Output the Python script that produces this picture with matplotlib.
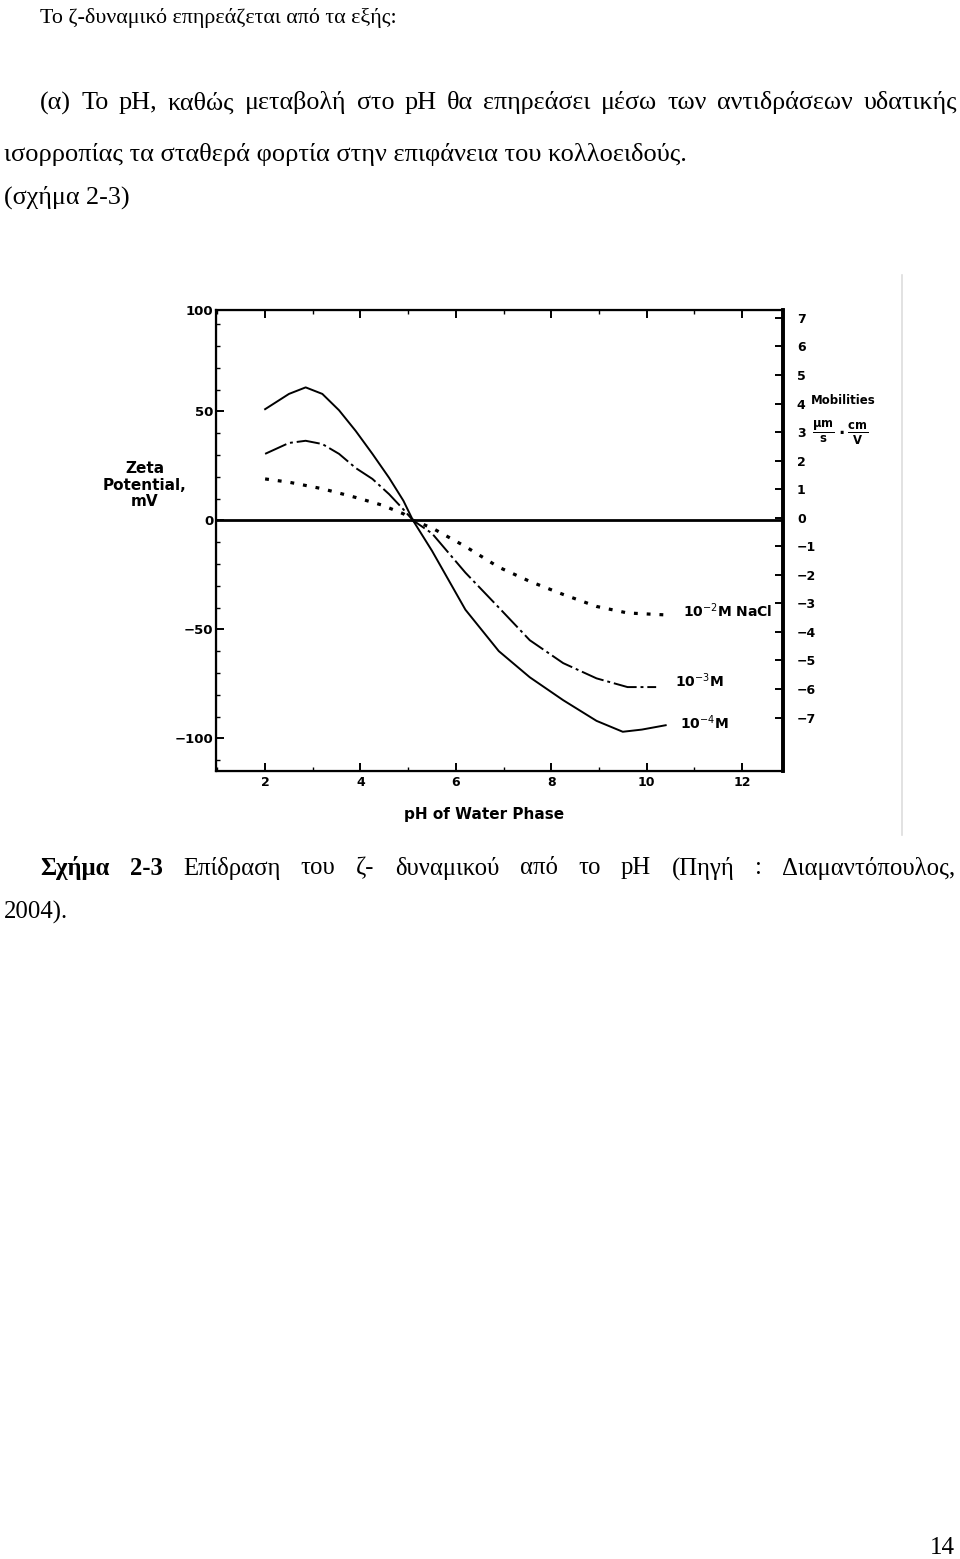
import matplotlib
matplotlib.use("Agg")
import matplotlib.pyplot as plt
from matplotlib.lines import Line2D

# data (pH vs zeta potential, mV)
ph_1e4 = [2.0, 2.5, 2.85, 3.2, 3.55, 3.9, 4.25, 4.6, 4.9, 5.1, 5.5, 6.2, 6.9, 7.55, 8.25, 8.95, 9.5, 9.9, 10.4]
zeta_1e4 = [51, 58, 61, 58, 50.5, 41, 30.5, 19.5, 9, 0, -14, -41, -60, -72, -82.5, -92, -97, -96, -94]

ph_1e3 = [2.0, 2.5, 2.85, 3.2, 3.55, 3.9, 4.25, 4.6, 4.9, 5.1, 5.5, 6.2, 6.9, 7.55, 8.25, 8.95, 9.6, 10.2]
zeta_1e3 = [30.5, 35.5, 36.5, 35, 30.5, 24, 19, 12, 5, 0, -6, -24, -40, -55, -65.5, -72.5, -76.5, -76.5]

ph_1e2 = [2.0, 2.5, 3.2, 3.9, 4.45, 4.9, 5.1, 5.5, 6.2, 6.9, 7.55, 8.25, 8.95, 9.6, 10.5]
zeta_1e2 = [19, 17.5, 14.5, 10.5, 7, 3, 0, -3.5, -12, -21.5, -28, -34, -39.5, -42.5, -43.5]

x_ticks = [2, 4, 6, 8, 10, 12]
y_ticks = [-100, -50, 0, 50]
y_tick_labels = ['\u2212100', '\u221250', '0', '50']
mob_ticks = [7, 6, 5, 4, 3, 2, 1, 0, -1, -2, -3, -4, -5, -6, -7]

labels = ['10$^{-2}$M NaCl', '10$^{-3}$M', '10$^{-4}$M']

W, H = 960, 1559
fig = plt.figure(figsize=(W / 100, H / 100), dpi=100)


def px(x, y):
    return x / W, 1 - y / H


serif = 'Liberation Serif'
chart_font = dict(family='DejaVu Sans', weight='bold')

# ---- page text ----
fig.text(*px(40, 18), 'Το ζ-δυναμικό επηρεάζεται από τα εξής:', family=serif,
         fontsize=15.8, va='center', ha='left')


def justify(words, x0, x1, y, size):
    texts = [fig.text(0, 0, w, family=serif, fontsize=size, weight=wt,
                      va='center', ha='left') for w, wt in words]
    r = fig.canvas.get_renderer()
    widths = [t.get_window_extent(r).width for t in texts]
    gap = (x1 - x0 - sum(widths)) / (len(words) - 1)
    x = x0
    for t, w in zip(texts, widths):
        t.set_position(px(x, y))
        x += w + gap


line_a = '(α) Το pH, καθώς μεταβολή στο pH θα επηρεάσει μέσω των αντιδράσεων υδατικής'
justify([(w, 'normal') for w in line_a.split()], 40, 957, 103, 18.8)
fig.text(*px(4, 155), 'ισορροπίας τα σταθερά φορτία στην επιφάνεια του κολλοειδούς.',
         family=serif, fontsize=19, va='center', ha='left')
fig.text(*px(4, 197), '(σχήμα 2-3)', family=serif, fontsize=18.8, va='center', ha='left')

caption = [('Σχήμα', 'bold'), ('2-3', 'bold')] + \
    [(w, 'normal') for w in 'Επίδραση του ζ- δυναμικού από το pH (Πηγή : Διαμαντόπουλος,'.split()]
justify(caption, 40, 955, 868, 17.8)
fig.text(*px(4, 912), '2004).', family=serif, fontsize=17.8, va='center', ha='left')
fig.text(*px(955, 1548), '14', family=serif, fontsize=18, va='center', ha='right')

# faint scan border line
fig.add_artist(Line2D([902 / W, 902 / W], [1 - 275 / H, 1 - 835 / H],
                      color='#dddddd', lw=1.2))

# ---- chart ----
ax = fig.add_axes([216 / W, 1 - 771 / H, (783 - 216) / W, (771 - 310) / H])
ax.set_xlim(0.97, 12.86)
ax.set_ylim(-115, 96.5)

ax.plot(ph_1e4, zeta_1e4, color='black', lw=1.4, ls='-')
ax.plot(ph_1e3, zeta_1e3, color='black', lw=1.4, ls=(0, (12, 2, 1.5, 2)))
ax.plot(ph_1e2, zeta_1e2, color='black', lw=2.3, ls=(0, (1.2, 2.8)))
ax.axhline(0, color='black', lw=2)

ax.text(10.76, -41.3, labels[0], fontsize=10, va='center', ha='left', **chart_font)
ax.text(10.6, -73.4, labels[1], fontsize=10, va='center', ha='left', **chart_font)
ax.text(10.7, -92.7, labels[2], fontsize=10, va='center', ha='left', **chart_font)

ax.set_xticks(x_ticks)
ax.set_xticklabels([str(t) for t in x_ticks], fontsize=9, **chart_font)
ax.set_xticks(range(1, 13), minor=True)
ax.set_yticks(y_ticks + [96.5])
ax.set_yticklabels(y_tick_labels + ['100'], fontsize=9.5, **chart_font)
ax.set_yticks(range(-110, 100, 10), minor=True)
ax.tick_params(which='major', direction='in', length=6, width=1.4, top=True)
ax.tick_params(which='minor', direction='in', length=3, width=1, top=True)
ax.tick_params(axis='y', pad=2)
for s in ['left', 'bottom', 'top']:
    ax.spines[s].set_linewidth(1.6)
ax.spines['right'].set_linewidth(2.6)

fig.text(*px(484, 815), 'pH of Water Phase', fontsize=11, ha='center', va='center',
         **chart_font)
fig.text(*px(145, 485), 'Zeta\nPotential,\nmV', fontsize=11, ha='center', va='center',
         linespacing=1.1, **chart_font)

# mobility axis on the right
mv_per_mob = 13.1
mob_zero = 1.2
ax2 = ax.twinx()
ax2.set_ylim((-115 - mob_zero) / mv_per_mob, (96.5 - mob_zero) / mv_per_mob)
ax2.set_yticks(mob_ticks)
ax2.set_yticklabels([str(m) if m >= 0 else '\u2212' + str(-m) for m in mob_ticks],
                    fontsize=9, **chart_font)
ax2.tick_params(direction='in', length=6, width=1.4, pad=10)
ax2.spines['right'].set_linewidth(2.6)

fig.text(*px(811, 400), 'Mobilities', fontsize=8.5, ha='left', va='center', **chart_font)
fig.text(*px(840, 433), r'$\mathbf{\frac{\mu m}{s}\cdot\frac{cm}{V}}$', fontsize=12,
         ha='center', va='center')

fig.savefig('out.png', dpi=100)
